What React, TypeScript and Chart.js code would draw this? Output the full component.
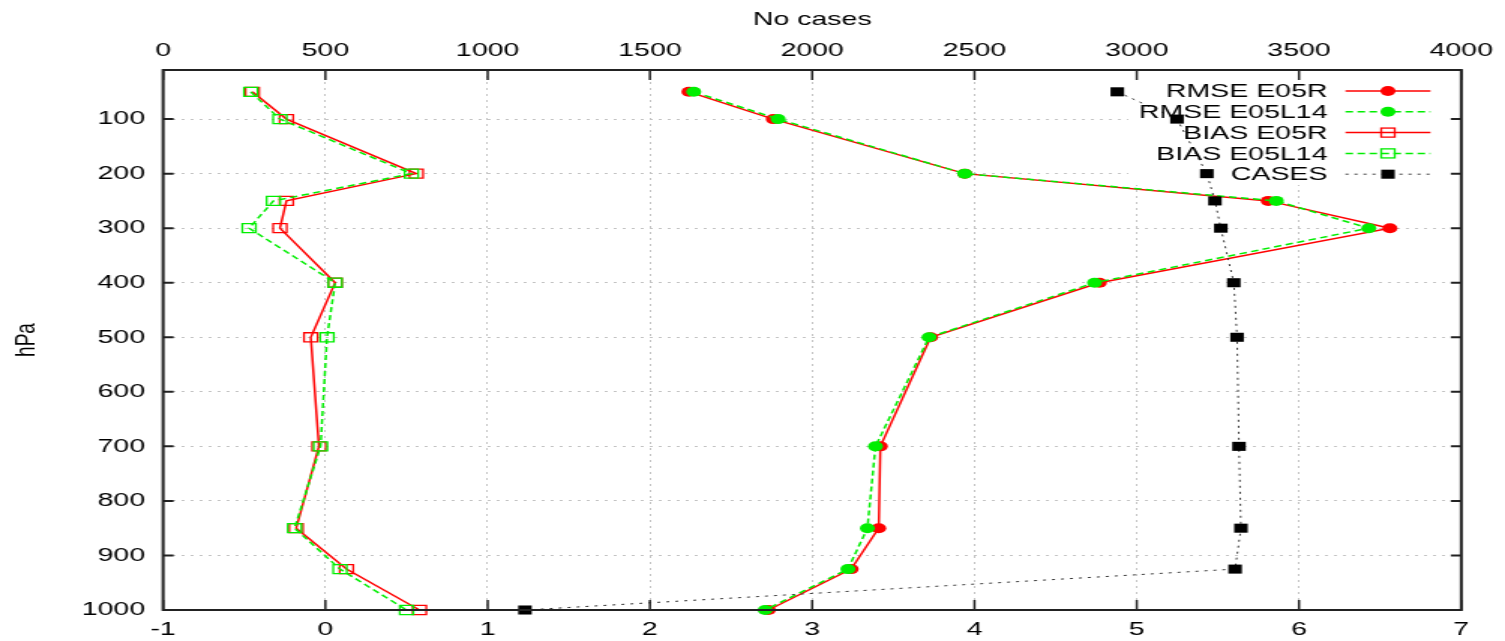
import React, { useEffect, useRef } from 'react';
import { Chart, registerables } from 'chart.js';

Chart.register(...registerables);

// ---------------- data ----------------
const levels = [50, 100, 200, 250, 300, 400, 500, 700, 850, 925, 1000];
const rmseE05R = [2.24, 2.76, 3.94, 5.81, 6.56, 4.77, 3.73, 3.42, 3.41, 3.24, 2.73];
const rmseE05L14 = [2.27, 2.79, 3.94, 5.86, 6.43, 4.74, 3.72, 3.39, 3.34, 3.22, 2.71];
const biasE05R = [-0.45, -0.24, 0.56, -0.24, -0.28, 0.06, -0.09, -0.04, -0.18, 0.13, 0.58];
const biasE05L14 = [-0.46, -0.28, 0.53, -0.32, -0.47, 0.06, 0.01, -0.03, -0.19, 0.09, 0.5];
const cases = [2940, 3124, 3216, 3241, 3259, 3299, 3309, 3315, 3321, 3303, 1115];

const seriesLabels = ['RMSE E05R', 'RMSE E05L14', 'BIAS E05R', 'BIAS E05L14', 'CASES'];

const yTickValues = [100, 200, 300, 400, 500, 600, 700, 800, 900, 1000];
const yTickLabels = ['100', '200', '300', '400', '500', '600', '700', '800', '900', '1000'];
const xBottomTicks = [-1, 0, 1, 2, 3, 4, 5, 6, 7];
const xBottomLabels = ['-1', '0', '1', '2', '3', '4', '5', '6', '7'];
const xTopTicks = [0, 500, 1000, 1500, 2000, 2500, 3000, 3500, 4000];
const xTopLabels = ['0', '500', '1000', '1500', '2000', '2500', '3000', '3500', '4000'];

const topTitle = 'No cases';
const leftTitle = 'hPa';

// ---------------- layout ----------------
const W = 1003; // internal canvas width (stretched horizontally to 1505 by CSS)
const H = 641;
const FONT = { family: '"Liberation Sans", Arial, Helvetica, sans-serif', size: 19 };
const RED = '#ff0000';
const GREEN = '#00ee00';

const toPoints = (xs: number[]) => xs.map((x, i) => ({ x, y: levels[i] }));

const gnuPlugin = {
  id: 'gnuFrame',
  beforeDatasetsDraw(chart: any) {
    const { ctx, chartArea: a } = chart;
    ctx.save();
    ctx.fillStyle = '#ffffff';
    ctx.fillRect(752, 80, a.right - 752, 105);
    ctx.restore();
  },
  afterDatasetsDraw(chart: any) {
    const { ctx, chartArea: a, scales } = chart;
    ctx.save();
    ctx.setLineDash([]);
    ctx.strokeStyle = '#222';
    // vertical inward ticks
    ctx.lineWidth = 1.5;
    ctx.beginPath();
    for (const v of xBottomTicks) {
      const px = scales.x.getPixelForValue(v);
      ctx.moveTo(px, a.bottom);
      ctx.lineTo(px, a.bottom - 10);
    }
    for (const v of xTopTicks) {
      const px = scales.xTop.getPixelForValue(v);
      ctx.moveTo(px, a.top);
      ctx.lineTo(px, a.top + 10);
    }
    ctx.stroke();
    // horizontal inward ticks
    ctx.lineWidth = 2;
    ctx.beginPath();
    for (const v of yTickValues) {
      const py = scales.y.getPixelForValue(v);
      ctx.moveTo(a.left, py);
      ctx.lineTo(a.left + 7, py);
      ctx.moveTo(a.right, py);
      ctx.lineTo(a.right - 7, py);
    }
    ctx.stroke();
    // frame
    ctx.lineWidth = 2;
    ctx.strokeRect(a.left, a.top, a.right - a.left, a.bottom - a.top);

    // legend
    const textRight = 884.7;
    const s0 = 896.7;
    const s1 = 953.3;
    const mx = 925;
    ctx.font = `${FONT.size}px ${FONT.family}`;
    ctx.textAlign = 'right';
    ctx.textBaseline = 'middle';
    chart.data.datasets.forEach((ds: any, i: number) => {
      const y = 91 + i * 20.8;
      ctx.fillStyle = '#000';
      ctx.fillText(ds.label, textRight, y + 1);
      ctx.strokeStyle = ds.borderColor;
      ctx.lineWidth = ds.borderWidth;
      ctx.setLineDash(ds.borderDash || []);
      ctx.beginPath();
      ctx.moveTo(s0, y);
      ctx.lineTo(s1, y);
      ctx.stroke();
      ctx.setLineDash([]);
      const r = ds.pointRadius;
      if (ds.pointStyle === 'circle') {
        ctx.fillStyle = ds.pointBackgroundColor;
        ctx.beginPath();
        ctx.arc(mx, y, r, 0, Math.PI * 2);
        ctx.fill();
      } else {
        const half = r * Math.SQRT1_2;
        if (ds.pointBackgroundColor && ds.pointBackgroundColor !== 'rgba(0,0,0,0)') {
          ctx.fillStyle = ds.pointBackgroundColor;
          ctx.fillRect(mx - half, y - half, half * 2, half * 2);
        } else {
          ctx.strokeStyle = ds.pointBorderColor;
          ctx.lineWidth = ds.pointBorderWidth;
          ctx.strokeRect(mx - half, y - half, half * 2, half * 2);
        }
      }
    });
    ctx.restore();
  },
};

export default function App() {
  const ref = useRef<HTMLCanvasElement | null>(null);

  useEffect(() => {
    if (!ref.current) return;
    const gridCommon = {
      color: '#c4c4c4',
      lineWidth: 1,
      drawTicks: false,
    };
    const chart = new Chart(ref.current, {
      type: 'scatter',
      data: {
        datasets: [
          {
            label: seriesLabels[0],
            data: toPoints(rmseE05R),
            xAxisID: 'x',
            yAxisID: 'y',
            showLine: true,
            borderColor: RED,
            borderWidth: 1.5,
            borderDash: [],
            pointStyle: 'circle',
            pointRadius: 5,
            pointBackgroundColor: RED,
            pointBorderColor: RED,
            pointBorderWidth: 0,
            order: 5,
            clip: false,
          },
          {
            label: seriesLabels[1],
            data: toPoints(rmseE05L14),
            xAxisID: 'x',
            yAxisID: 'y',
            showLine: true,
            borderColor: GREEN,
            borderWidth: 1.5,
            borderDash: [5, 3],
            pointStyle: 'circle',
            pointRadius: 5,
            pointBackgroundColor: GREEN,
            pointBorderColor: GREEN,
            pointBorderWidth: 0,
            order: 4,
            clip: false,
          },
          {
            label: seriesLabels[2],
            data: toPoints(biasE05R),
            xAxisID: 'x',
            yAxisID: 'y',
            showLine: true,
            borderColor: RED,
            borderWidth: 1.5,
            borderDash: [],
            pointStyle: 'rect',
            pointRadius: 6.4,
            pointBackgroundColor: 'rgba(0,0,0,0)',
            pointBorderColor: RED,
            pointBorderWidth: 1.3,
            order: 3,
            clip: false,
          },
          {
            label: seriesLabels[3],
            data: toPoints(biasE05L14),
            xAxisID: 'x',
            yAxisID: 'y',
            showLine: true,
            borderColor: GREEN,
            borderWidth: 1.5,
            borderDash: [5, 3],
            pointStyle: 'rect',
            pointRadius: 6.4,
            pointBackgroundColor: 'rgba(0,0,0,0)',
            pointBorderColor: GREEN,
            pointBorderWidth: 1.3,
            order: 2,
            clip: false,
          },
          {
            label: seriesLabels[4],
            data: toPoints(cases),
            xAxisID: 'xTop',
            yAxisID: 'y',
            showLine: true,
            borderColor: '#333333',
            borderWidth: 1,
            borderDash: [2, 4],
            pointStyle: 'rect',
            pointRadius: 6.4,
            pointBackgroundColor: '#000000',
            pointBorderColor: '#000000',
            pointBorderWidth: 0,
            order: 1,
            clip: false,
          },
        ],
      } as any,
      options: {
        responsive: false,
        maintainAspectRatio: false,
        devicePixelRatio: 1,
        animation: false,
        layout: { padding: { left: 0, right: W - 976.7, top: 0, bottom: 0 } },
        plugins: {
          legend: { display: false },
          tooltip: { enabled: false },
          title: { display: false },
        },
        scales: {
          x: {
            type: 'linear',
            position: 'bottom',
            min: -1,
            max: 7,
            afterBuildTicks: (s: any) => {
              s.ticks = xBottomTicks.map((v) => ({ value: v }));
            },
            afterFit: (s: any) => {
              s.height = H - 610;
            },
            ticks: {
              autoSkip: false,
              maxRotation: 0,
              padding: 8,
              color: '#000',
              font: FONT,
              callback: (_v: any, i: number) => xBottomLabels[i],
            },
            grid: gridCommon,
            border: { display: false, dash: [2, 4] },
          },
          xTop: {
            type: 'linear',
            position: 'top',
            min: 0,
            max: 4000,
            afterBuildTicks: (s: any) => {
              s.ticks = xTopTicks.map((v) => ({ value: v }));
            },
            afterFit: (s: any) => {
              s.height = 70;
            },
            ticks: {
              autoSkip: false,
              maxRotation: 0,
              padding: 8,
              color: '#000',
              font: FONT,
              callback: (_v: any, i: number) => xTopLabels[i],
            },
            grid: { display: false, drawTicks: false },
            border: { display: false },
            title: {
              display: true,
              text: topTitle,
              color: '#000',
              font: FONT,
              padding: { top: 8, bottom: 0 },
            },
          },
          y: {
            type: 'linear',
            position: 'left',
            reverse: true,
            min: 10,
            max: 1000,
            afterBuildTicks: (s: any) => {
              s.ticks = yTickValues.map((v) => ({ value: v }));
            },
            afterFit: (s: any) => {
              s.width = 108.7;
            },
            ticks: {
              autoSkip: false,
              padding: 12,
              color: '#000',
              font: FONT,
              callback: (_v: any, i: number) => yTickLabels[i],
            },
            grid: gridCommon,
            border: { display: false, dash: [2, 4] },
            title: {
              display: true,
              text: leftTitle,
              color: '#000',
              font: FONT,
              padding: { top: 6, bottom: 0 },
            },
          },
        },
      } as any,
      plugins: [gnuPlugin],
    });
    return () => chart.destroy();
  }, []);

  return (
    <div
      style={{
        position: 'fixed',
        left: 0,
        top: 0,
        width: 1505,
        height: 641,
        background: '#ffffff',
      }}
    >
      <canvas
        ref={ref}
        width={W}
        height={H}
        style={{ width: '1505px', height: '641px', display: 'block' }}
      />
    </div>
  );
}
